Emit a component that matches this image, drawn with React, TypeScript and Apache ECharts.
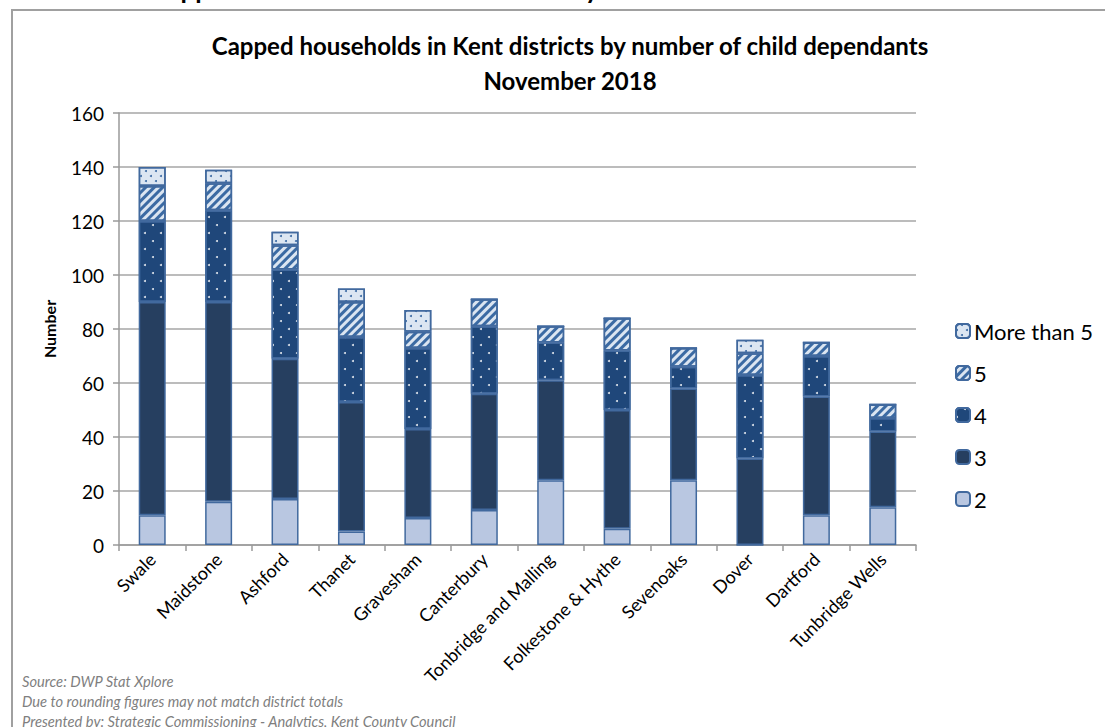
import React, { useEffect, useRef } from "react";
import * as echarts from "echarts";

const districts = [
  "Swale", "Maidstone", "Ashford", "Thanet", "Gravesham", "Canterbury",
  "Tonbridge and Malling", "Folkestone & Hythe", "Sevenoaks", "Dover", "Dartford", "Tunbridge Wells",
];
const child2 = [11, 16, 17, 5, 10, 13, 24, 6, 24, 0, 11, 14];
const child3 = [79, 74, 52, 48, 33, 43, 37, 44, 34, 32, 44, 28];
const child4 = [30, 34, 33, 24, 30, 25, 14, 22, 8, 31, 15, 5];
const child5 = [13, 10, 9, 13, 6, 10, 6, 12, 7, 8, 5, 5];
const childMore5 = [7, 5, 5, 5, 8, 0, 0, 0, 0, 5, 0, 0];
const yTicks = { min: 0, max: 160, interval: 20 };

const FONT = "Lato, 'Open Sans', sans-serif";
const BORDER = "#41699e";

export default function App() {
  const ref = useRef<HTMLDivElement>(null);
  useEffect(() => {
    if (!ref.current) return;
    const chart = echarts.init(ref.current, null, { renderer: "svg" });
    const mk = (name: string, data: number[], color: string, decal?: any) => ({
      name,
      type: "bar",
      stack: "total",
      barWidth: 27,
      data,
      itemStyle: { color, borderColor: BORDER, borderWidth: 1.5, decal },
    });
    chart.setOption({
      animation: false,
      aria: { enabled: false, decal: { show: true } },
      textStyle: { fontFamily: FONT },
      title: {
        text: "Capped households in Kent districts by number of child dependants\nNovember 2018",
        left: 565,
        top: 23,
        textAlign: "center",
        textStyle: { fontFamily: FONT, fontSize: 24, fontWeight: "bold", color: "#000", lineHeight: 35 },
      },
      grid: { left: 119, right: 189, top: 113, bottom: 182, containLabel: false },
      legend: {
        orient: "vertical",
        left: 950,
        top: 315,
        itemWidth: 14,
        itemHeight: 14,
        itemGap: 20,
        data: ["More than 5", "5", "4", "3", "2"],
        textStyle: { fontFamily: FONT, fontSize: 22, color: "#000", padding: [0, 0, 0, -1] },
      },
      xAxis: {
        type: "category",
        data: districts,
        axisLine: { lineStyle: { color: "#9a9a9a", width: 1.5 } },
        axisTick: { show: true, length: 6, lineStyle: { color: "#9a9a9a", width: 1.5 } },
        axisLabel: { rotate: 45, fontSize: 18, color: "#000", fontFamily: FONT, margin: 11, interval: 0 },
      },
      yAxis: {
        type: "value",
        min: yTicks.min,
        max: yTicks.max,
        interval: yTicks.interval,
        name: "Number",
        nameLocation: "middle",
        nameGap: 62,
        nameTextStyle: { fontFamily: FONT, fontSize: 16, fontWeight: "bold", color: "#000" },
        axisLine: { show: true, lineStyle: { color: "#9a9a9a", width: 1.5 } },
        axisTick: { show: true, length: 6, lineStyle: { color: "#9a9a9a", width: 1.5 } },
        axisLabel: { fontSize: 19, color: "#000", fontFamily: FONT, margin: 15 },
        splitLine: { lineStyle: { color: "#a6a6a6", width: 1.5 } },
      },
      series: [
        mk("2", child2, "#b9c7e1", "none"),
        mk("3", child3, "#263f60", "none"),
        mk("4", child4, "#1f477a", {
          symbol: "circle",
          symbolSize: 1,
          color: "rgba(255,255,255,0.85)",
          dashArrayX: [[2, 14], [0, 8, 2, 6]],
          dashArrayY: [2, 5.7],
        }),
        mk("5", child5, "#dbe5f1", {
          symbol: "rect",
          symbolSize: 1,
          color: "#3b6aa3",
          dashArrayX: [1, 0],
          dashArrayY: [2.5, 2.5],
          rotation: -Math.PI / 4,
        }),
        mk("More than 5", childMore5, "#dce6f2", {
          symbol: "circle",
          symbolSize: 1,
          color: "#3b6aa3",
          dashArrayX: [[2, 8], [0, 5, 2, 3]],
          dashArrayY: [2, 2.5],
        }),
      ],
      graphic: [
        {
          type: "rect",
          shape: { x: 12, y: 10, width: 1300, height: 900 },
          style: { fill: "none", stroke: "#a0a0a0", lineWidth: 2 },
          silent: true,
        },
        {
          type: "text",
          left: 150,
          top: -24,
          style: {
            text: "Capped households in Kent districts by",
            font: `bold 26px ${FONT}`,
            fill: "#000",
          },
        },
        {
          type: "text",
          left: 22,
          top: 673,
          style: { text: "Source: DWP Stat Xplore", font: `italic 14.7px ${FONT}`, fill: "#7f7f7f" },
        },
        {
          type: "text",
          left: 22,
          top: 693,
          style: { text: "Due to rounding figures may not match district totals", font: `italic 14.7px ${FONT}`, fill: "#7f7f7f" },
        },
        {
          type: "text",
          left: 22,
          top: 713,
          style: { text: "Presented by: Strategic Commissioning - Analytics, Kent County Council", font: `italic 14.7px ${FONT}`, fill: "#7f7f7f" },
        },
      ],
    });
    return () => chart.dispose();
  }, []);
  return <div ref={ref} style={{ width: 1105, height: 727, position: "absolute", left: 0, top: 0, background: "#fff" }} />;
}
